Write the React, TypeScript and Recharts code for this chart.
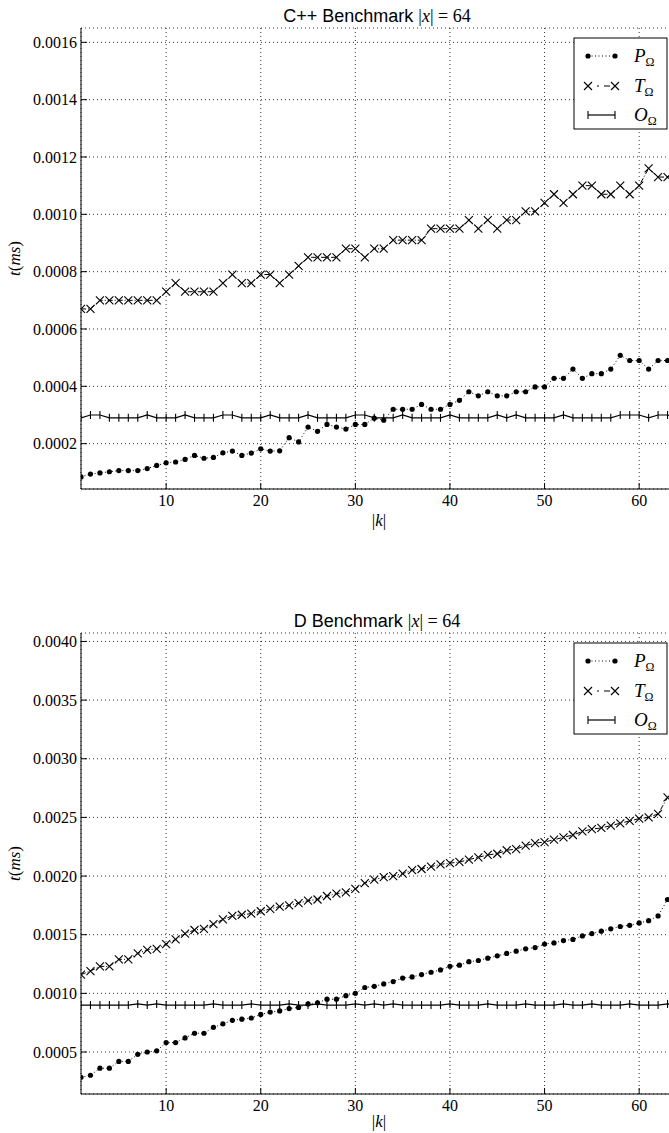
import { LineChart, Line, XAxis, YAxis, CartesianGrid, Customized } from 'recharts';

const kValues = [
  1, 2, 3, 4, 5, 6, 7, 8, 9, 10, 11, 12, 13, 14, 15, 16,
  17, 18, 19, 20, 21, 22, 23, 24, 25, 26, 27, 28, 29, 30, 31, 32,
  33, 34, 35, 36, 37, 38, 39, 40, 41, 42, 43, 44, 45, 46, 47, 48,
  49, 50, 51, 52, 53, 54, 55, 56, 57, 58, 59, 60, 61, 62, 63, 64,
];
const kTicks = [10, 20, 30, 40, 50, 60];

// C++ benchmark
const cppTicks = [0.0002, 0.0004, 0.0006, 0.0008, 0.001, 0.0012, 0.0014, 0.0016];
const cppP = [
  0.000084, 0.000094, 0.000098, 0.000102, 0.000106, 0.000106, 0.000106, 0.000113,
  0.000124, 0.000133, 0.000136, 0.000145, 0.000159, 0.000149, 0.000152, 0.000168,
  0.000174, 0.000159, 0.000167, 0.000182, 0.000174, 0.000175, 0.000221, 0.000206,
  0.000258, 0.000243, 0.000267, 0.000258, 0.000251, 0.000267, 0.000267, 0.000289,
  0.000282, 0.00032, 0.00032, 0.00032, 0.000337, 0.00032, 0.00032, 0.000337,
  0.000351, 0.000381, 0.000367, 0.000381, 0.000367, 0.000367, 0.000381, 0.000381,
  0.000398, 0.000398, 0.000428, 0.000428, 0.00046, 0.000428, 0.000444, 0.000444,
  0.00046, 0.000508, 0.00049, 0.00049, 0.00046, 0.00049, 0.00049, 0.00049,
];
const cppT = [
  0.00067, 0.00067, 0.0007, 0.0007, 0.0007, 0.0007, 0.0007, 0.0007,
  0.0007, 0.00073, 0.00076, 0.00073, 0.00073, 0.00073, 0.00073, 0.00076,
  0.00079, 0.00076, 0.00076, 0.00079, 0.00079, 0.00076, 0.00079, 0.00082,
  0.00085, 0.00085, 0.00085, 0.00085, 0.00088, 0.00088, 0.00085, 0.00088,
  0.00088, 0.00091, 0.00091, 0.00091, 0.00091, 0.00095, 0.00095, 0.00095,
  0.00095, 0.00098, 0.00095, 0.00098, 0.00095, 0.00098, 0.00098, 0.00101,
  0.00101, 0.00104, 0.00107, 0.00104, 0.00107, 0.0011, 0.0011, 0.00107,
  0.00107, 0.0011, 0.00107, 0.0011, 0.00116, 0.00113, 0.00113, 0.00113,
];
const cppO = [
  0.00029, 0.0003, 0.0003, 0.00029, 0.00029, 0.00029, 0.00029, 0.0003,
  0.00029, 0.00029, 0.00029, 0.0003, 0.00029, 0.00029, 0.00029, 0.0003,
  0.0003, 0.00029, 0.00029, 0.00029, 0.0003, 0.00029, 0.00029, 0.00029,
  0.0003, 0.00029, 0.00029, 0.00029, 0.00029, 0.0003, 0.0003, 0.00029,
  0.00029, 0.00029, 0.0003, 0.00029, 0.00029, 0.00029, 0.00029, 0.0003,
  0.00029, 0.00029, 0.00029, 0.00029, 0.0003, 0.00029, 0.0003, 0.00029,
  0.00029, 0.00029, 0.00029, 0.0003, 0.00029, 0.00029, 0.00029, 0.00029,
  0.00029, 0.0003, 0.0003, 0.0003, 0.00029, 0.0003, 0.0003, 0.00029,
];

// D benchmark
const dTicks = [0.0005, 0.001, 0.0015, 0.002, 0.0025, 0.003, 0.0035, 0.004];
const dP = [
  0.000285, 0.000302, 0.000362, 0.000362, 0.00042, 0.00042, 0.00048, 0.0005,
  0.00051, 0.00058, 0.00058, 0.00062, 0.00066, 0.00066, 0.00071, 0.00074,
  0.00077, 0.00078, 0.00079, 0.00082, 0.00084, 0.00085, 0.00087, 0.00088,
  0.00091, 0.00092, 0.00095, 0.00095, 0.00098, 0.001, 0.00105, 0.00106,
  0.00108, 0.0011, 0.00113, 0.00114, 0.00116, 0.00118, 0.0012, 0.00123,
  0.00124, 0.00127, 0.00128, 0.0013, 0.00132, 0.00134, 0.00136, 0.00138,
  0.00139, 0.00142, 0.00143, 0.00145, 0.00146, 0.00149, 0.00151, 0.00153,
  0.00155, 0.00157, 0.00158, 0.0016, 0.00162, 0.00166, 0.0018, 0.0019,
];
const dT = [
  0.00116, 0.00119, 0.00123, 0.00123, 0.00129, 0.00129, 0.00134, 0.00137,
  0.00138, 0.00142, 0.00146, 0.00151, 0.00154, 0.00155, 0.00159, 0.00163,
  0.00166, 0.00167, 0.00168, 0.0017, 0.00172, 0.00174, 0.00175, 0.00177,
  0.00179, 0.0018, 0.00183, 0.00185, 0.00186, 0.00189, 0.00194, 0.00197,
  0.00199, 0.002, 0.00202, 0.00205, 0.00206, 0.00208, 0.0021, 0.00211,
  0.00212, 0.00214, 0.00216, 0.00218, 0.00219, 0.00222, 0.00223, 0.00226,
  0.00228, 0.00229, 0.00231, 0.00233, 0.00235, 0.00238, 0.0024, 0.00241,
  0.00243, 0.00245, 0.00247, 0.00249, 0.0025, 0.00253, 0.00267, 0.0028,
];
const dO = [
  0.0009, 0.0009, 0.0009, 0.0009, 0.0009, 0.0009, 0.00091, 0.0009,
  0.00091, 0.0009, 0.0009, 0.0009, 0.0009, 0.0009, 0.00091, 0.0009,
  0.0009, 0.0009, 0.00091, 0.0009, 0.0009, 0.0009, 0.00091, 0.0009,
  0.0009, 0.00091, 0.0009, 0.0009, 0.0009, 0.00091, 0.0009, 0.00091,
  0.0009, 0.00091, 0.0009, 0.0009, 0.0009, 0.0009, 0.0009, 0.00091,
  0.0009, 0.0009, 0.0009, 0.00091, 0.0009, 0.0009, 0.0009, 0.00091,
  0.0009, 0.0009, 0.0009, 0.00091, 0.0009, 0.0009, 0.00091, 0.0009,
  0.0009, 0.0009, 0.00091, 0.0009, 0.0009, 0.0009, 0.00091, 0.0009,
];

const seriesNames = ['P', 'T', 'O'];

const SERIF = '"Liberation Serif", "DejaVu Serif", serif';
const SANS = '"Liberation Sans", Arial, sans-serif';

function buildRows(p: number[], t: number[], o: number[]) {
  return kValues.map((k, i) => ({ k, P: p[i], T: t[i], O: o[i] }));
}

const DotP = (props: any) => {
  const { cx, cy } = props;
  if (cx == null || cy == null) return null;
  return <circle cx={cx} cy={cy} r={2.6} fill="#000" />;
};
const DotT = (props: any) => {
  const { cx, cy } = props;
  if (cx == null || cy == null) return null;
  return (
    <path
      d={`M${cx - 4},${cy - 4}L${cx + 4},${cy + 4}M${cx - 4},${cy + 4}L${cx + 4},${cy - 4}`}
      stroke="#000"
      strokeWidth={1.1}
      fill="none"
    />
  );
};
const DotO = (props: any) => {
  const { cx, cy } = props;
  if (cx == null || cy == null) return null;
  return <line x1={cx} x2={cx} y1={cy - 4} y2={cy + 4} stroke="#000" strokeWidth={1.1} />;
};

const fmt4 = (v: number) => v.toFixed(4);

function Legend({ boxTop }: { boxTop: number }) {
  const rowY = [boxTop + 18, boxTop + 48, boxTop + 77];
  return (
    <g>
      <rect x={574} y={boxTop} width={93} height={91} fill="#fff" stroke="#000" strokeWidth={1} />
      {seriesNames.map((name, i) => {
        const y = rowY[i];
        let sample = null;
        if (name === 'P') {
          sample = (
            <g>
              <line x1={588} x2={615} y1={y} y2={y} stroke="#000" strokeDasharray="1 2.5" />
              <circle cx={588} cy={y} r={2.6} fill="#000" />
              <circle cx={615} cy={y} r={2.6} fill="#000" />
            </g>
          );
        } else if (name === 'T') {
          sample = (
            <g>
              <line x1={597} x2={599} y1={y} y2={y} stroke="#000" />
              <line x1={604} x2={610} y1={y} y2={y} stroke="#000" />
              <path d={`M584,${y - 4}L592,${y + 4}M584,${y + 4}L592,${y - 4}`} stroke="#000" strokeWidth={1.1} />
              <path d={`M611,${y - 4}L619,${y + 4}M611,${y + 4}L619,${y - 4}`} stroke="#000" strokeWidth={1.1} />
            </g>
          );
        } else {
          sample = (
            <g>
              <line x1={588} x2={615} y1={y} y2={y} stroke="#000" strokeWidth={1.2} />
              <line x1={588} x2={588} y1={y - 4} y2={y + 4} stroke="#000" strokeWidth={1.1} />
              <line x1={615} x2={615} y1={y - 4} y2={y + 4} stroke="#000" strokeWidth={1.1} />
            </g>
          );
        }
        return (
          <g key={name}>
            {sample}
            <text x={634} y={y + 6} fontFamily={SERIF} fontSize={19} fill="#000">
              <tspan fontStyle="italic">{name}</tspan>
              <tspan fontSize={12} dy={4}>Ω</tspan>
            </text>
          </g>
        );
      })}
    </g>
  );
}

function Decorations({ title, titleY, plotTop, plotBottom, legendTop, kLabelGap }: any) {
  const cx = 377;
  const cy = (plotTop + plotBottom) / 2;
  return (
    <g>
      <text x={cx} y={titleY} textAnchor="middle" fontSize={18} fill="#000">
        <tspan fontFamily={SANS}>{title} </tspan>
        <tspan fontFamily={SERIF}>|</tspan>
        <tspan fontFamily={SERIF} fontStyle="italic">x</tspan>
        <tspan fontFamily={SERIF}>|{'\u2005'}={'\u2005'}64</tspan>
      </text>
      <text x={379} y={plotBottom + kLabelGap} textAnchor="middle" fontFamily={SERIF} fontSize={17} fill="#000">
        <tspan>|</tspan>
        <tspan fontStyle="italic">k</tspan>
        <tspan>|</tspan>
      </text>
      <text
        x={20}
        y={cy}
        textAnchor="middle"
        transform={`rotate(-90, 20, ${cy})`}
        fontFamily={SERIF}
        fontSize={17}
        fill="#000"
      >
        <tspan fontStyle="italic">t</tspan>
        <tspan>(</tspan>
        <tspan fontStyle="italic">ms</tspan>
        <tspan>)</tspan>
      </text>
      <Legend boxTop={legendTop} />
    </g>
  );
}

function BenchChart({ title, data, domain, ticks, top, plotTop, plotBottom, titleY, legendTop, kLabelGap }: any) {
  const height = 540;
  const tickStyle = { fontFamily: SERIF, fontSize: 16, fill: '#000' };
  return (
    <div style={{ position: 'absolute', left: 0, top }}>
      <LineChart
        width={700}
        height={height}
        data={data}
        margin={{ top: plotTop, right: 23, bottom: 0, left: 0 }}
      >
        <CartesianGrid stroke="#000" strokeWidth={0.8} strokeDasharray="1 3" />
        <XAxis
          dataKey="k"
          type="number"
          domain={[1, 64]}
          ticks={kTicks}
          allowDataOverflow
          height={height - plotBottom}
          tickSize={-6}
          tickMargin={12}
          stroke="#000"
          tick={tickStyle}
        />
        <XAxis
          xAxisId="top"
          orientation="top"
          dataKey="k"
          type="number"
          domain={[1, 64]}
          ticks={kTicks}
          allowDataOverflow
          height={0}
          tickSize={-6}
          tick={false}
          stroke="#000"
        />
        <YAxis
          type="number"
          domain={domain}
          ticks={ticks}
          allowDataOverflow
          width={81}
          tickSize={-6}
          tickMargin={10}
          tickFormatter={fmt4}
          stroke="#000"
          tick={tickStyle}
        />
        <YAxis
          yAxisId="right"
          orientation="right"
          type="number"
          domain={domain}
          ticks={ticks}
          allowDataOverflow
          width={0}
          tickSize={-6}
          tick={false}
          stroke="#000"
        />
        <Line
          dataKey="O"
          type="linear"
          stroke="#000"
          strokeWidth={1.2}
          dot={DotO}
          activeDot={false}
          isAnimationActive={false}
        />
        <Line
          dataKey="P"
          type="linear"
          stroke="#000"
          strokeWidth={1}
          strokeDasharray="1 2.5"
          dot={DotP}
          activeDot={false}
          isAnimationActive={false}
        />
        <Line
          dataKey="T"
          type="linear"
          stroke="#000"
          strokeWidth={1}
          strokeDasharray="5 2 1 2"
          dot={DotT}
          activeDot={false}
          isAnimationActive={false}
        />
        <Customized
          component={
            <Decorations
              title={title}
              titleY={titleY}
              plotTop={plotTop}
              plotBottom={plotBottom}
              legendTop={legendTop}
              kLabelGap={kLabelGap}
            />
          }
        />
      </LineChart>
    </div>
  );
}

export default function App() {
  return (
    <div
      style={{
        position: 'fixed',
        left: 0,
        top: 0,
        width: 669,
        height: 1133,
        overflow: 'hidden',
        background: '#fff',
      }}
    >
      <BenchChart
        title="C++ Benchmark"
        data={buildRows(cppP, cppT, cppO)}
        domain={[0.0000418, 0.00165]}
        ticks={cppTicks}
        top={0}
        plotTop={28}
        plotBottom={489}
        titleY={22}
        legendTop={38}
        kLabelGap={37}
      />
      <BenchChart
        title="D Benchmark"
        data={buildRows(dP, dT, dO)}
        domain={[0.000142, 0.004072]}
        ticks={dTicks}
        top={600}
        plotTop={33}
        plotBottom={494}
        titleY={27}
        legendTop={43}
        kLabelGap={33}
      />
    </div>
  );
}
